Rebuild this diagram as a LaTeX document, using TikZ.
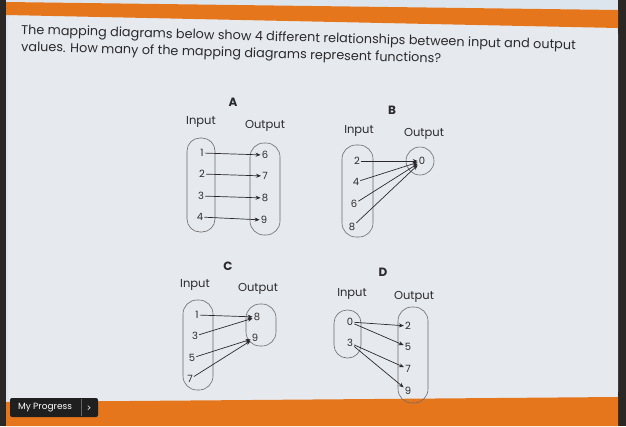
\documentclass[tikz,border=0pt]{standalone}
\usepackage{fontspec}
\setmainfont{Poppins}
\usetikzlibrary{arrows.meta}
\tikzset{>=stealth}
\definecolor{screen}{HTML}{E6EAEE}
\definecolor{sky}{HTML}{DCE5ED}
\definecolor{band}{HTML}{E6761C}
\definecolor{frame}{HTML}{2B2724}
\definecolor{ink}{HTML}{2A2A2E}

\begin{document}
\begin{tikzpicture}[x=1pt,y=-1pt,
    val/.style={font=\fontsize{10}{12}\selectfont, text=ink, inner sep=1pt},
    head/.style={font=\fontsize{11.5}{13}\selectfont, text=ink},
    letter/.style={font=\fontsize{12}{14}\selectfont\bfseries, text=ink},
    line/.style={anchor=base west, rotate=-1.6, text=ink, inner sep=0pt,
                 font=\fontsize{12.8}{15}\selectfont},
    oval/.style={draw=ink!70, line width=0.6pt},
    map/.style={-{Stealth[length=5pt,width=4pt]}, ink, line width=0.7pt}]
  \useasboundingbox (0,0) rectangle (626,426);
  % screen and bands
  \fill[frame] (0,0) rectangle (626,426);
  \fill[sky] (6,0) rectangle (618,426);
  \fill[screen, rounded corners=8pt] (8,14) -- (618,26) -- (618,400) -- (8,403) -- cycle;
  \fill[band] (6,2) -- (618,10) -- (618,28) -- (6,15) -- cycle;
  \fill[band] (6,402) -- (618,397) -- (618,426) -- (6,426) -- cycle;
  % question
  \node[line] (question1) at (21,34)
    {The mapping diagrams below show 4 different relationships between input and output};
  \node[line] (question2) at (21,51)
    {values. How many of the mapping diagrams represent functions?};

  % A
  \node[letter] (labA) at (233,102) {A};
  \node[head] (inA) at (201,122) {Input};
  \node[head] (outA) at (265,126) {Output};
  \draw[oval, rounded corners=13pt] (187,138) rectangle (215,232);
  \draw[oval, rounded corners=14pt] (250,143) rectangle (280,235);
  \node[val] (a1) at (202,153) {1};
  \node[val] (a2) at (202,174) {2};
  \node[val] (a3) at (201,196) {3};
  \node[val] (a4) at (200,217) {4};
  \node[val] (a6) at (265,155) {6};
  \node[val] (a7) at (265,176) {7};
  \node[val] (a8) at (265,198) {8};
  \node[val] (a9) at (264,220) {9};
  \draw[map] (a1) -- (a6);
  \draw[map] (a2) -- (a7);
  \draw[map] (a3) -- (a8);
  \draw[map] (a4) -- (a9);

  % B
  \node[letter] (labB) at (392,110) {B};
  \node[head] (inB) at (359,131) {Input};
  \node[head] (outB) at (424,134) {Output};
  \draw[oval, rounded corners=14pt] (342,145) rectangle (373,237);
  \draw[oval] (420,161) circle (14);
  \node[val] (b2) at (357,161) {2};
  \node[val] (b4) at (356,182) {4};
  \node[val] (b6) at (354,204) {6};
  \node[val] (b8) at (352,227) {8};
  \node[val] (b0) at (422,161) {0};
  \foreach \n in {2,4,6,8}
    \draw[map] (b\n) -- (b0);

  % C
  \node[letter] (labC) at (228,266) {C};
  \node[head] (inC) at (195,285) {Input};
  \node[head] (outC) at (258,289) {Output};
  \draw[oval, rounded corners=14pt] (183,300) rectangle (213,390);
  \draw[oval, rounded corners=14pt] (246,304) rectangle (276,346);
  \node[val] (c1) at (197,315) {1};
  \node[val] (c3) at (195,336) {3};
  \node[val] (c5) at (192,358) {5};
  \node[val] (c7) at (190,379) {7};
  \node[val] (c8) at (257,317) {8};
  \node[val] (c9) at (255,338) {9};
  \draw[map] (c1) -- (c8);
  \draw[map] (c3) -- (c8);
  \draw[map] (c5) -- (c9);
  \draw[map] (c7) -- (c9);

  % D
  \node[letter] (labD) at (383,272) {D};
  \node[head] (inD) at (352,294) {Input};
  \node[head] (outD) at (414,297) {Output};
  \draw[oval, rounded corners=13pt] (334,310) rectangle (361,358);
  \draw[oval, rounded corners=14pt] (398,307) rectangle (428,403);
  \node[val] (d0) at (350,322) {0};
  \node[val] (d3) at (350,343) {3};
  \node[val] (d2) at (408,326) {2};
  \node[val] (d5) at (408,347) {5};
  \node[val] (d7) at (408,369) {7};
  \node[val] (d9) at (408,391) {9};
  \draw[map] (d0) -- (d2);
  \draw[map] (d0) -- (d5);
  \draw[map] (d3) -- (d7);
  \draw[map] (d3) -- (d9);

  % progress button
  \fill[black!88, rounded corners=2pt] (10,398) rectangle (98,417);
  \draw[white!40!black, line width=0.6pt] (81,399) -- (81,416);
  \node[text=white, font=\fontsize{9}{10}\selectfont, inner sep=0pt] (progress) at (45,408) {My Progress};
  \node[text=white, font=\fontsize{9}{10}\selectfont, inner sep=0pt] (more) at (89,409) {>};
\end{tikzpicture}
\end{document}
